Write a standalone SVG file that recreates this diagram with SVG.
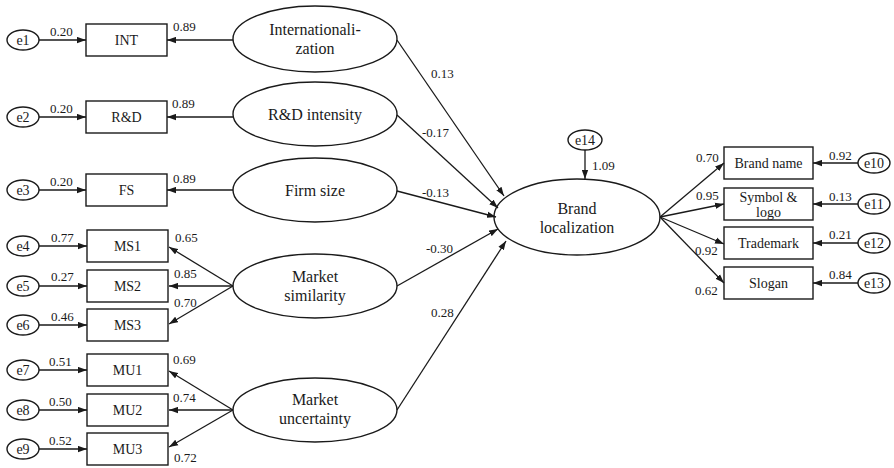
<svg xmlns="http://www.w3.org/2000/svg" width="894" height="468" viewBox="0 0 894 468" font-family="'Liberation Serif', 'Times New Roman', 'DejaVu Serif', serif">
<defs>
<marker id="ah" viewBox="0 0 10 7" markerWidth="9" markerHeight="7" refX="10" refY="3.5" orient="auto" markerUnits="userSpaceOnUse">
<path d="M0,0 L10,3.5 L0,7 z" fill="#1a1a1a"/>
</marker>
<style>
.n{fill:#fff;stroke:#1a1a1a;stroke-width:1.4}
text{font-family:'Liberation Serif','Times New Roman','DejaVu Serif',serif;fill:#1a1a1a}
.t{text-anchor:middle}
.big{font-size:16px}
.box{font-size:14px}
.num text{font-size:13px}
.c line{stroke:#1a1a1a;stroke-width:1.3;marker-end:url(#ah)}
</style>
</defs>
<rect width="894" height="468" fill="#fff"/>

<g id="e1"><ellipse class="n" cx="23" cy="40" rx="16" ry="10"/><text class="t box" x="23" y="45">e1</text></g>
<g id="e2"><ellipse class="n" cx="23" cy="117" rx="16" ry="10"/><text class="t box" x="23" y="122">e2</text></g>
<g id="e3"><ellipse class="n" cx="23" cy="190" rx="16" ry="10"/><text class="t box" x="23" y="195">e3</text></g>
<g id="e4"><ellipse class="n" cx="23" cy="246" rx="16" ry="10"/><text class="t box" x="23" y="251">e4</text></g>
<g id="e5"><ellipse class="n" cx="23" cy="286" rx="16" ry="10"/><text class="t box" x="23" y="291">e5</text></g>
<g id="e6"><ellipse class="n" cx="23" cy="325" rx="16" ry="10"/><text class="t box" x="23" y="330">e6</text></g>
<g id="e7"><ellipse class="n" cx="23" cy="370" rx="16" ry="10"/><text class="t box" x="23" y="375">e7</text></g>
<g id="e8"><ellipse class="n" cx="23" cy="410" rx="16" ry="10"/><text class="t box" x="23" y="415">e8</text></g>
<g id="e9"><ellipse class="n" cx="23" cy="449" rx="16" ry="10"/><text class="t box" x="23" y="454">e9</text></g>

<g id="INT"><rect class="n" x="86" y="24" width="81" height="32"/><text class="t box" x="126.5" y="45">INT</text></g>
<g id="RD"><rect class="n" x="86" y="101" width="81" height="32"/><text class="t box" x="126.5" y="122">R&amp;D</text></g>
<g id="FS"><rect class="n" x="86" y="174" width="81" height="32"/><text class="t box" x="126.5" y="195">FS</text></g>
<g id="MS1"><rect class="n" x="87" y="230" width="81" height="32"/><text class="t box" x="127.5" y="251">MS1</text></g>
<g id="MS2"><rect class="n" x="87" y="270" width="81" height="32"/><text class="t box" x="127.5" y="291">MS2</text></g>
<g id="MS3"><rect class="n" x="87" y="309" width="81" height="32"/><text class="t box" x="127.5" y="330">MS3</text></g>
<g id="MU1"><rect class="n" x="87" y="354" width="81" height="32"/><text class="t box" x="127.5" y="375">MU1</text></g>
<g id="MU2"><rect class="n" x="87" y="394" width="81" height="32"/><text class="t box" x="127.5" y="415">MU2</text></g>
<g id="MU3"><rect class="n" x="87" y="433" width="81" height="32"/><text class="t box" x="127.5" y="454">MU3</text></g>

<g id="Intl"><ellipse class="n" cx="315" cy="39" rx="82" ry="33"/><text class="t big" x="315" y="35">Internationali-</text><text class="t big" x="315" y="54">zation</text></g>
<g id="RDI"><ellipse class="n" cx="315" cy="114" rx="82" ry="32"/><text class="t big" x="315" y="120">R&amp;D intensity</text></g>
<g id="Firm"><ellipse class="n" cx="315" cy="190" rx="82" ry="32"/><text class="t big" x="315" y="196">Firm size</text></g>
<g id="MSim"><ellipse class="n" cx="315" cy="286" rx="82" ry="32"/><text class="t big" x="315" y="282">Market</text><text class="t big" x="315" y="301">similarity</text></g>
<g id="MUnc"><ellipse class="n" cx="315" cy="410" rx="82" ry="32"/><text class="t big" x="315" y="405">Market</text><text class="t big" x="315" y="424">uncertainty</text></g>

<g id="BL"><ellipse class="n" cx="577" cy="217" rx="83" ry="38"/><text class="t big" x="577" y="214">Brand</text><text class="t big" x="577" y="233">localization</text></g>
<g id="e14"><ellipse class="n" cx="585" cy="140" rx="17" ry="10"/><text class="t box" x="585" y="145">e14</text></g>

<g id="BN"><rect class="n" x="724" y="147" width="89" height="32"/><text class="t box" x="768.5" y="168">Brand name</text></g>
<g id="SL"><rect class="n" x="724" y="188" width="89" height="32"/><text class="t box" x="768.5" y="202">Symbol &amp;</text><text class="t box" x="768.5" y="217">logo</text></g>
<g id="TM"><rect class="n" x="724" y="227" width="89" height="32"/><text class="t box" x="768.5" y="248">Trademark</text></g>
<g id="SG"><rect class="n" x="724" y="267" width="89" height="32"/><text class="t box" x="768.5" y="288">Slogan</text></g>
<g id="e10"><ellipse class="n" cx="874" cy="163" rx="16" ry="10"/><text class="t box" x="874" y="168">e10</text></g>
<g id="e11"><ellipse class="n" cx="874" cy="204" rx="16" ry="10"/><text class="t box" x="874" y="209">e11</text></g>
<g id="e12"><ellipse class="n" cx="874" cy="243" rx="16" ry="10"/><text class="t box" x="874" y="248">e12</text></g>
<g id="e13"><ellipse class="n" cx="874" cy="283" rx="16" ry="10"/><text class="t box" x="874" y="288">e13</text></g>

<g id="connectors" class="c">
<line x1="39" y1="40" x2="86" y2="40"/>
<line x1="39" y1="117" x2="86" y2="117"/>
<line x1="39" y1="190" x2="86" y2="190"/>
<line x1="39" y1="246" x2="87" y2="246"/>
<line x1="39" y1="286" x2="87" y2="286"/>
<line x1="39" y1="325" x2="87" y2="325"/>
<line x1="39" y1="370" x2="87" y2="370"/>
<line x1="39" y1="410" x2="87" y2="410"/>
<line x1="39" y1="449" x2="87" y2="449"/>
<line x1="233" y1="40" x2="167" y2="40"/>
<line x1="233" y1="117" x2="167" y2="117"/>
<line x1="233" y1="190" x2="167" y2="190"/>
<line x1="233" y1="286" x2="169" y2="247"/>
<line x1="233" y1="286" x2="169" y2="286"/>
<line x1="233" y1="286" x2="169" y2="324"/>
<line x1="233" y1="410" x2="169" y2="371"/>
<line x1="233" y1="410" x2="169" y2="410"/>
<line x1="233" y1="410" x2="169" y2="447"/>
<line x1="397" y1="40" x2="504" y2="196"/>
<line x1="397" y1="115" x2="498" y2="208"/>
<line x1="397" y1="191" x2="496" y2="217"/>
<line x1="397" y1="286" x2="498" y2="229"/>
<line x1="397" y1="410" x2="506" y2="241"/>
<line x1="585" y1="150" x2="585" y2="179"/>
<line x1="660" y1="217" x2="724" y2="163"/>
<line x1="660" y1="217" x2="724" y2="204"/>
<line x1="660" y1="217" x2="724" y2="244"/>
<line x1="660" y1="217" x2="724" y2="283"/>
<line x1="858" y1="163" x2="813" y2="163"/>
<line x1="858" y1="204" x2="813" y2="204"/>
<line x1="858" y1="243" x2="813" y2="243"/>
<line x1="858" y1="283" x2="813" y2="283"/>
</g>

<g id="labels" class="num">
<text x="50" y="36">0.20</text>
<text x="50" y="113">0.20</text>
<text x="50" y="186">0.20</text>
<text x="51" y="242">0.77</text>
<text x="51" y="281">0.27</text>
<text x="51" y="321">0.46</text>
<text x="49" y="366">0.51</text>
<text x="49" y="406">0.50</text>
<text x="49" y="445">0.52</text>
<text x="173" y="31">0.89</text>
<text x="172" y="108">0.89</text>
<text x="173" y="183">0.89</text>
<text x="175" y="242">0.65</text>
<text x="174" y="278">0.85</text>
<text x="174" y="307">0.70</text>
<text x="173" y="364">0.69</text>
<text x="173" y="402">0.74</text>
<text x="174" y="462">0.72</text>
<text x="431" y="78">0.13</text>
<text x="422" y="137">-0.17</text>
<text x="422" y="197">-0.13</text>
<text x="426" y="253">-0.30</text>
<text x="431" y="317">0.28</text>
<text x="592" y="170">1.09</text>
<text x="696" y="162">0.70</text>
<text x="696" y="200">0.95</text>
<text x="695" y="255">0.92</text>
<text x="695" y="295">0.62</text>
<text x="829" y="160">0.92</text>
<text x="829" y="201">0.13</text>
<text x="829" y="239">0.21</text>
<text x="829" y="279">0.84</text>
</g>
</svg>
